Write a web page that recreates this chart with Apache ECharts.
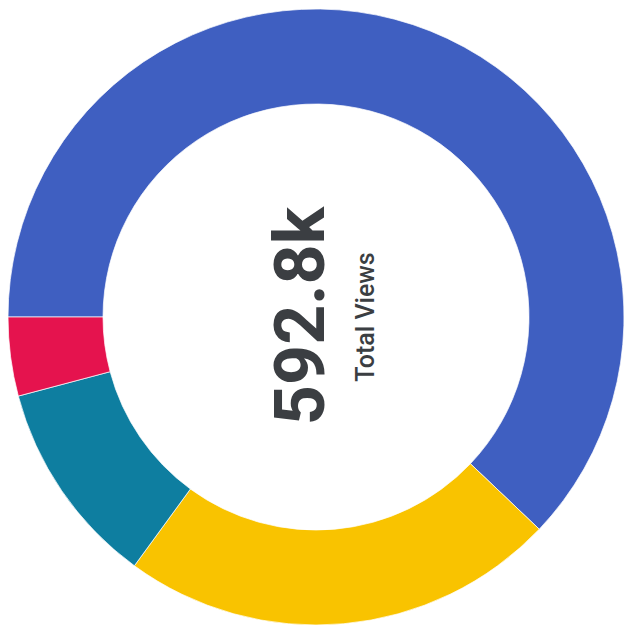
<!DOCTYPE html>
<html>
<head>
<meta charset="utf-8">
<script src="https://cdn.jsdelivr.net/npm/echarts@6/dist/echarts.min.js"></script>
<style>
  html, body { margin: 0; padding: 0; background: #ffffff; }
  #chart { width: 624px; height: 630px; }
</style>
</head>
<body>
<div id="chart"></div>
<script>
// View sources (thousands of views), drawn clockwise from the 9 o'clock position
const categories = ['Source A', 'Source B', 'Source C', 'Source D'];
const views = [368.1, 136.0, 64.2, 24.5];
const colors = ['#3f5fc1', '#f9c300', '#0e7ea0', '#e5134e'];
const totalLabel = '592.8k';
const subtitle = 'Total Views';

const chart = echarts.init(document.getElementById('chart'), null, { renderer: 'svg' });

chart.setOption({
  animation: false,
  backgroundColor: '#ffffff',
  series: [{
    type: 'pie',
    center: [316, 317],
    radius: [213, 308],
    startAngle: 180,
    clockwise: true,
    silent: true,
    label: { show: false },
    labelLine: { show: false },
    itemStyle: { borderColor: 'rgba(255,255,255,0.7)', borderWidth: 1 },
    data: categories.map((name, i) => ({
      name: name,
      value: views[i],
      itemStyle: { color: colors[i] }
    }))
  }],
  graphic: [
    {
      type: 'text',
      x: 300,
      y: 316,
      rotation: Math.PI / 2,
      style: {
        text: totalLabel,
        font: 'bold 70px Roboto',
        fill: '#3b3e42',
        textAlign: 'center',
        textVerticalAlign: 'middle'
      }
    },
    {
      type: 'text',
      x: 365,
      y: 317,
      rotation: Math.PI / 2,
      style: {
        text: subtitle,
        font: '500 25px Roboto',
        fill: '#3b3e42',
        textAlign: 'center',
        textVerticalAlign: 'middle'
      }
    }
  ]
});
</script>
</body>
</html>
